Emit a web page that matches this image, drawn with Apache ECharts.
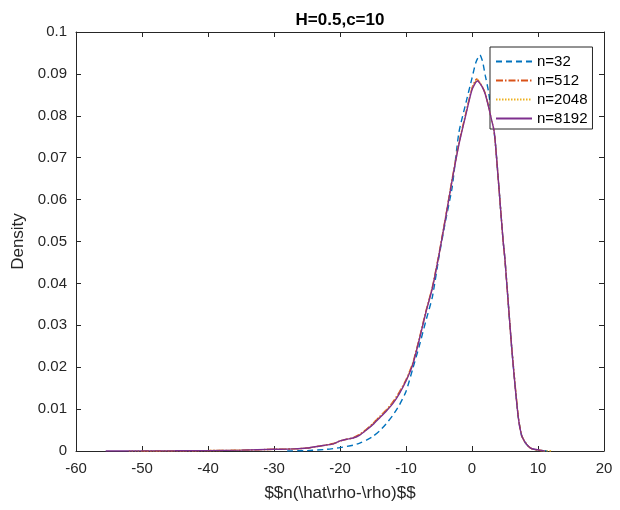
<!DOCTYPE html>
<html><head><meta charset="utf-8">
<script src="https://cdn.jsdelivr.net/npm/echarts@6/dist/echarts.min.js"></script>
<style>html,body{margin:0;padding:0;background:#fff}#c{width:620px;height:510px}</style>
</head><body><div id="c"></div>
<script>
const seriesNames = ['n=32','n=512','n=2048','n=8192'];
const xTicks = [-60,-50,-40,-30,-20,-10,0,10,20];
const yTicks = [0,0.01,0.02,0.03,0.04,0.05,0.06,0.07,0.08,0.09,0.1];

const x32 = [-28,-25,-22,-20,-18,-17,-16,-15,-14,-13,-12,-11,-10,-9,-8,-7,-6,-5,-4,-3,-2,-1,0,0.6,1.2,1.6,2,2.5,3,3.5,4,4.7,5,6,7,7.5,8,8.5,9,10,11,12];
const y32 = [0,0.0001,0.0004,0.0008,0.0014,0.0019,0.0026,0.0035,0.0048,0.0065,0.0085,0.011,0.0142,0.0195,0.025,0.031,0.0368,0.0464,0.055,0.063,0.0759,0.0826,0.089,0.0928,0.0945,0.093,0.0897,0.0858,0.0798,0.0742,0.0645,0.0504,0.0456,0.0249,0.0082,0.0038,0.0022,0.0012,0.0006,0.0002,0.00005,0];

const x512 = [-50,-45,-40,-35,-30,-27,-25,-23,-21,-20,-19,-18,-17,-16,-15,-14,-13,-12,-11,-10,-9,-8,-7,-6,-5,-4,-3,-2,-1,0,0.7,1.4,2,2.5,3,3.3,3.5,4,4.7,5,6,7,7.5,8,8.5,9,10,11];
const y512 = [0,0.00003,0.0001,0.0002,0.0004,0.0005,0.0007,0.0012,0.0018,0.0024,0.0028,0.0032,0.004,0.0052,0.0066,0.0082,0.0098,0.0117,0.0141,0.017,0.0209,0.0268,0.0333,0.0392,0.0471,0.0559,0.065,0.0734,0.0802,0.0866,0.0888,0.0874,0.0854,0.0824,0.0789,0.0768,0.0742,0.0645,0.0504,0.0456,0.0251,0.0083,0.0038,0.0022,0.0012,0.0006,0.0002,0];

const x2048 = [-52,-45,-40,-35,-30,-27,-25,-23,-21,-20,-19,-18,-17,-16,-15,-14,-13,-12,-11,-10,-9,-8,-7,-6,-5,-4,-3,-2,-1,0,0.8,1.5,2,2.5,3,3.3,3.5,4,4.7,5,6,7,7.5,8,8.5,9,10,11,12];
const y2048 = [0,0.00003,0.0001,0.0002,0.0004,0.0005,0.0007,0.0012,0.0017,0.0024,0.0028,0.0031,0.0039,0.0051,0.0065,0.0081,0.0097,0.0115,0.0139,0.0168,0.0207,0.0266,0.0331,0.039,0.0469,0.0557,0.0648,0.0732,0.08,0.0864,0.0887,0.0872,0.0853,0.0823,0.0788,0.0768,0.0742,0.0645,0.0504,0.0456,0.025,0.0083,0.0038,0.0022,0.0012,0.0006,0.0002,0.00005,0];

const x8192 = [-55.5,-50,-45,-40,-35,-30,-27,-25,-23,-21,-20,-19,-18,-17,-16,-15,-14,-13,-12,-11,-10,-9,-8,-7,-6,-5,-4,-3,-2,-1,0,0.8,1.5,2,2.5,3,3.3,3.5,4,4.7,5,6,7,7.5,8,8.5,9,10,11];
const y8192 = [0,0.00002,0.00005,0.0001,0.0002,0.0004,0.0005,0.0007,0.0012,0.0017,0.0024,0.0028,0.0031,0.0038,0.005,0.0063,0.0079,0.0095,0.0113,0.0137,0.0167,0.0205,0.0265,0.033,0.0389,0.0468,0.0556,0.0647,0.073,0.0798,0.0862,0.0883,0.087,0.0852,0.0822,0.0788,0.0768,0.0742,0.0645,0.0504,0.0456,0.0249,0.0082,0.0038,0.0022,0.0012,0.0006,0.0003,0];

const colors = ['#0072BD','#D95319','#EDB120','#7E2F8E'];
const dashes = [[6,4],[7,2,1.5,2],[1.5,1.5],'solid'];
const xsAll = [x32,x512,x2048,x8192];
const ysAll = [y32,y512,y2048,y8192];

const axisColor = '#262626';
const font = 'Liberation Sans, Arial, sans-serif';
function fmt(v){ return String(Math.round(v*1000)/1000); }

const chart = echarts.init(document.getElementById('c'), null, {renderer:'canvas'});
const series = seriesNames.map((n,i)=>({
  name:n, type:'line', symbol:'none', smooth:0.2, animation:false,
  data: xsAll[i].map((x,j)=>[x, ysAll[i][j]]),
  lineStyle:{color:colors[i], width:1.4, type:dashes[i]},
  itemStyle:{color:colors[i]}, z: 2+i
}));

const baseAxis = {
  axisLine:{show:true, onZero:false, lineStyle:{color:axisColor, width:1}},
  axisTick:{show:true, inside:true, length:5, lineStyle:{color:axisColor}},
  splitLine:{show:false}
};

chart.setOption({
  backgroundColor:'#fff',
  animation:false,
  title:{text:'H=0.5,c=10', left:335, top:7, textAlign:'center',
    textStyle:{fontFamily:font, fontSize:17, fontWeight:'bold', color:'#000'}},
  grid:{left:76, right:16, top:32, bottom:59, containLabel:false, outerBoundsMode:'none'},
  legend:{data:seriesNames, orient:'vertical', left:490, top:47,
    backgroundColor:'#fff', borderColor:axisColor, borderWidth:1, borderRadius:0,
    padding:[7,5,3,5], itemWidth:36, itemHeight:15, itemGap:4,
    itemStyle:{color:'rgba(0,0,0,0)', borderWidth:0},
    textStyle:{fontFamily:font, fontSize:15, color:'#000', lineHeight:15}},
  xAxis:[
    Object.assign({}, baseAxis, {type:'value', min:-60, max:20, interval:10, position:'bottom',
      name:'$$n(\\hat\\rho-\\rho)$$', nameLocation:'middle', nameGap:34,
      nameTextStyle:{fontFamily:font, fontSize:17, color:axisColor},
      axisLabel:{fontFamily:font, fontSize:15, color:axisColor, margin:10, formatter:v=>fmt(v)}}),
    Object.assign({}, baseAxis, {type:'value', min:-60, max:20, interval:10, position:'top',
      axisLabel:{show:false}})
  ],
  yAxis:[
    Object.assign({}, baseAxis, {type:'value', min:0, max:0.1, interval:0.01, position:'left',
      name:'Density', nameLocation:'middle', nameGap:42,
      nameTextStyle:{fontFamily:font, fontSize:17, color:axisColor},
      axisLabel:{fontFamily:font, fontSize:15, color:axisColor, margin:9, formatter:v=>fmt(v)}}),
    Object.assign({}, baseAxis, {type:'value', min:0, max:0.1, interval:0.01, position:'right',
      axisLabel:{show:false}})
  ],
  series: series
});
</script></body></html>
